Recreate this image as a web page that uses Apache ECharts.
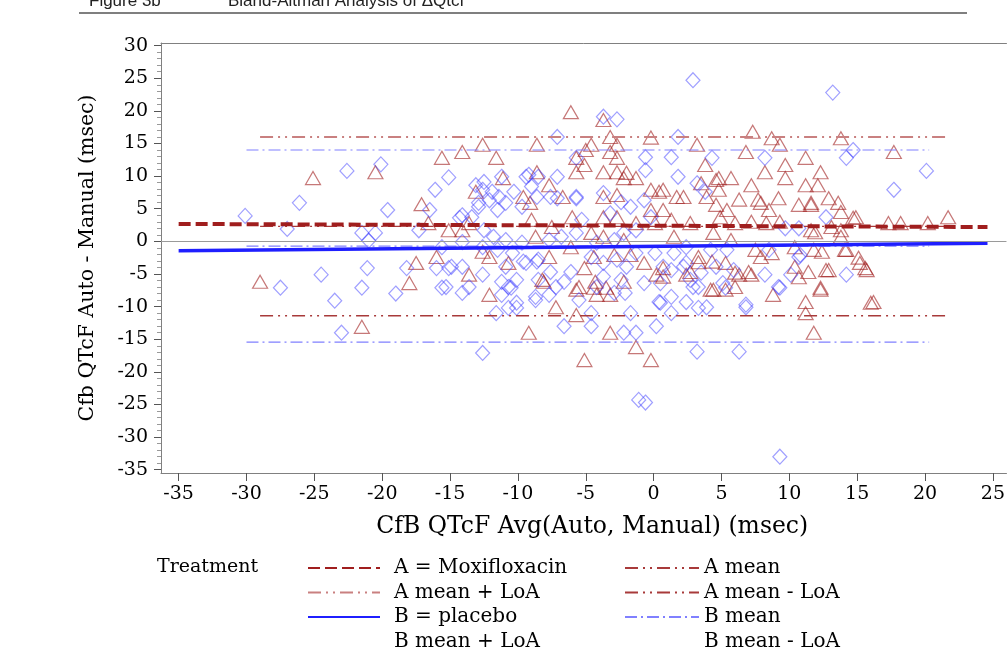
<!DOCTYPE html>
<html>
<head>
<meta charset="utf-8">
<script src="https://cdn.jsdelivr.net/npm/echarts@6/dist/echarts.min.js"></script>
<style>
  html, body { margin: 0; padding: 0; background: #fff; }
  #chart { width: 1008px; height: 651px; }
</style>
</head>
<body>
<div id="chart"></div>
<script>
"use strict";
/* tick labels */
const xTicks = [-35, -30, -25, -20, -15, -10, -5, 0, 5, 10, 15, 20, 25];
const yTicks = [-35, -30, -25, -20, -15, -10, -5, 0, 5, 10, 15, 20, 25, 30];
const yMinorTicks = [];
for (let v = -35; v <= 30; v++) { if (v % 5 !== 0) yMinorTicks.push(v); }

/* A = Moxifloxacin : [avg, diff] */
const aPoints = [
  [-29.0,-6.2],[-25.1,9.7],[-20.5,10.6],[-21.5,-13.1],[-18.0,-6.4],[-17.5,-3.3],[-17.1,5.7],[-16.6,2.8],
  [-16.0,-2.4],[-15.6,12.8],[-15.1,1.7],[-14.1,13.7],[-14.1,1.7],[-13.6,2.8],[-13.6,-5.1],[-13.1,7.6],
  [-12.6,14.8],[-12.6,-1.6],[-12.1,-2.4],[-12.1,-8.2],[-11.6,12.8],[-11.1,9.7],[-10.7,-3.3],[-9.6,6.8],
  [-9.2,-14.0],[-9.1,5.9],[-8.6,14.8],[-8.6,10.6],[-8.1,-6.2],[-7.7,8.6],[-7.2,-10.1],[-6.7,6.8],
  [-6.1,19.8],[-5.7,12.8],[-5.7,10.6],[-5.7,-11.3],[-5.7,-7.4],[-5.1,11.7],[-5.1,-18.2],[-5.1,-4.1],
  [-4.6,14.8],[-4.3,-6.2],[-4.2,-8.2],[-3.7,18.6],[-3.7,10.6],[-3.2,16.0],[-3.2,13.7],[-3.2,-8.2],
  [-3.2,-14.0],[-2.7,14.8],[-2.7,12.8],[-2.7,10.6],[-2.2,9.7],[-2.2,-6.2],[-1.3,9.7],[-1.3,-16.2],
  [-0.7,-3.3],[-0.2,15.9],[-0.2,-18.2],[0.2,-5.1],[0.4,7.6],[0.7,-4.1],[2.2,6.8],[2.4,-5.1],
  [3.2,14.8],[3.3,-3.2],[3.8,11.7],[4.2,-7.4],[4.6,5.6],[4.8,9.7],[5.3,-7.4],[5.7,9.7],
  [6.3,-5.1],[6.8,13.7],[7.2,-5.1],[7.2,8.6],[7.3,16.8],[7.9,5.9],[7.9,-2.4],[8.2,10.6],
  [8.7,15.8],[8.8,-8.2],[9.2,6.6],[9.3,14.8],[9.7,11.7],[9.7,9.7],[10.7,5.6],[10.7,-5.5],
  [11.2,12.8],[11.2,8.6],[11.2,-9.3],[11.2,-11.0],[11.6,5.6],[11.6,1.7],[11.8,-14.0],[12.1,8.6],
  [12.3,10.6],[12.3,-7.4],[12.4,-1.6],[12.7,-4.4],[12.9,6.6],[13.8,15.8],[13.8,4.5],[13.8,1.7],
  [14.2,-1.3],[14.7,3.6],[15.2,-3.3],[15.7,-4.4],[16.2,-9.3],[17.3,2.8],[17.7,13.7],[18.2,2.8],
  [20.2,2.8],[21.7,3.7],
  [-9.0,3.3],[-6.0,3.7],[-7.5,2.2],[-8.7,0.7],[-8.2,-5.9],[-7.7,-2.4],[-6.1,-0.9],[-5.5,-7.0],
  [-5.0,14.0],[-2.0,10.5],[-0.2,7.9],[0.7,7.9],[1.7,6.8],[-3.7,6.8],[-2.7,7.1],[0.7,4.8],
  [-0.2,4.8],[-3.7,3.7],[-2.7,3.7],[-1.3,2.8],[0.1,2.8],[1.3,3.3],[2.7,2.8],[4.9,3.7],
  [5.4,4.8],[3.9,6.8],[4.8,7.9],[3.5,8.9],[4.6,9.4],[-4.6,1.3],[-3.7,0.7],[-2.2,0.2],
  [1.5,0.7],[4.4,1.3],[5.7,0.2],[-4.4,-2.4],[-2.9,-2.1],[-1.7,-2.1],[3.3,-2.4],[4.3,-3.1],
  [5.3,-3.3],[0.7,-5.4],[2.7,-4.7],[-4.4,-7.1],[-3.5,-7.1],[4.4,-7.4],
  [11.6,5.9],[7.7,6.4],[6.3,6.4],[8.5,4.8],[13.6,5.9],[14.9,3.7],[6.0,2.8],[7.2,3.0],
  [8.3,2.8],[9.3,3.0],[13.1,2.2],[11.9,1.4],[13.8,0.7],[7.5,-1.3],[8.7,-1.8],[10.4,-0.9],
  [11.8,-1.3],[14.1,-1.3],[15.1,-2.5],[15.6,-4.1],[7.0,-4.7],[6.0,-4.8],[10.4,-3.9],[11.4,-4.7],
  [12.9,-4.4],[12.3,-7.1],[16.0,-9.4],[6.0,-7.0]
];

/* B = placebo : [avg, diff] */
const bPoints = [
  [-30.1,3.9],[-27.0,1.9],[-26.1,5.9],[-27.5,-7.1],[-24.5,-5.1],[-23.5,-9.1],[-23.0,-14.0],[-22.6,10.8],
  [-21.5,-7.1],[-21.5,1.3],[-21.1,-4.1],[-21.0,0.1],[-20.5,1.3],[-20.1,11.8],[-19.6,4.8],[-19.0,-8.0],
  [-18.2,-4.1],[-17.3,1.7],[-16.5,4.8],[-16.1,7.9],[-16.0,-4.1],[-15.6,-7.1],[-15.6,-0.9],[-15.1,9.8],
  [-15.1,-4.1],[-14.1,4.0],[-14.1,-0.1],[-14.1,-3.9],[-14.1,-7.9],[-13.6,-7.0],[-13.1,8.6],[-12.9,5.9],
  [-12.6,-5.1],[-12.6,-17.1],[-12.5,9.1],[-11.4,6.8],[-11.2,9.9],[-11.2,-6.2],[-11.2,-8.2],[-11.6,-11.0],
  [-10.7,-10.2],[-10.5,-7.1],[-10.3,7.6],[-10.1,-10.2],[-9.7,5.3],[-9.6,-3.1],[-9.2,10.2],[-8.7,-9.0],
  [-8.6,-3.1],[-7.7,-8.2],[-7.6,6.8],[-7.1,16.0],[-6.6,-6.2],[-6.6,-13.0],[-5.7,12.8],[-5.7,6.8],
  [-4.6,-13.0],[-4.6,-11.0],[-3.7,19.1],[-2.7,18.7],[-2.2,-14.0],[-2.1,-7.9],[-1.7,-11.0],[-1.3,-14.0],
  [-1.1,-24.3],[-0.6,-24.7],[-0.6,12.9],[-0.6,10.9],[0.2,-13.0],[0.4,-9.3],[1.3,-11.0],[1.3,12.9],
  [1.3,-4.4],[1.8,16.0],[1.8,9.9],[2.4,-3.3],[2.4,-9.3],[2.9,24.7],[3.2,8.9],[3.2,-16.9],
  [3.3,-10.2],[3.3,-7.0],[3.8,7.6],[4.3,12.8],[5.3,-7.1],[6.3,-16.9],[6.8,-10.1],[8.2,12.8],
  [8.2,-5.1],[9.3,-7.1],[9.3,-33.0],[9.7,2.0],[10.7,2.0],[10.7,-2.4],[12.7,3.7],[13.2,22.8],
  [14.2,12.8],[14.2,-5.1],[14.7,14.0],[17.7,7.9],[20.1,10.8],
  [-12.6,7.9],[-11.9,7.6],[-12.1,6.3],[-12.9,5.3],[-11.5,4.8],[-10.9,5.9],[-9.4,9.9],[-9.0,8.4],
  [-8.5,9.9],[-8.6,6.8],[-7.1,9.9],[-7.1,6.6],[-5.7,6.6],[-5.3,3.3],[-5.7,1.3],[-6.8,0.7],
  [-7.7,0.2],[-9.7,-0.2],[-10.9,0.2],[-11.8,0.7],[-12.5,1.7],[-13.4,3.7],[-14.3,3.6],[-12.6,-0.9],
  [-11.5,-1.3],[-10.4,-1.8],[-10.9,-3.9],[-9.4,-3.3],[-8.5,-2.8],[-7.6,-4.7],[-6.1,-4.7],[-8.5,-5.9],
  [-10.1,-5.9],[-10.7,-7.0],[-14.9,-3.9],[-15.3,-7.0],[-10.1,-9.4],[-8.7,-8.5],[-7.2,-7.0],[-5.5,-9.0],
  [-3.7,7.4],[-2.4,6.0],[-1.7,5.3],[-0.7,6.3],[-0.2,3.7],[-3.2,4.3],[-1.3,1.7],[-2.2,1.3],
  [-2.9,0.2],[-4.2,-0.2],[-4.6,-2.4],[-3.7,-3.3],[-2.7,-2.8],[-2.0,-3.9],[-1.3,-1.8],[0.7,-3.9],
  [0.1,-1.8],[1.5,-1.8],[2.2,-3.9],[3.5,-4.8],[2.7,-5.9],[0.5,-6.4],[-0.7,-6.4],[-2.4,-5.9],
  [-3.7,-5.4],[-4.2,-7.0],[-2.9,-7.9],[1.3,-8.5],[2.9,-7.0],[3.9,-10.1],[5.1,-6.4],[4.6,-3.9],
  [5.4,-1.3],[4.2,-1.3],[2.4,-0.9],[0.5,-9.4],
  [8.5,-1.3],[10.8,-2.1],[10.1,-5.1],[9.2,-7.0],[6.8,-9.7],[5.9,-4.4]
];

/* fitted lines and reference levels */
const regX = [-35, 24.6];
const aRegY = [2.67, 2.2];
const bRegY = [-1.43, -0.3];
const aSpan = [-29.0, 21.5];
const bSpan = [-30.0, 20.3];
const aMean = 2.3, aLoaUp = 16.0, aLoaLow = -11.4;
const bMean = -0.73, bLoaUp = 14.0, bLoaLow = -15.45;

/* legend rows: [name, column, row] */
const legendItems = [
    ["A = Moxifloxacin", 0, 0], ["A mean", 1, 0],
    ["A mean + LoA", 0, 1], ["A mean - LoA", 1, 1],
    ["B = placebo", 0, 2], ["B mean", 1, 2],
    ["B mean + LoA", 0, 3], ["B mean - LoA", 1, 3]
];

const serif = "'DejaVu Serif', 'Liberation Serif', serif";
const xMin = -36.3, xMax = 26, yMin = -35.5, yMax = 30.4;

function seg(xs, ys) { return [[xs[0], ys[0]], [xs[1], ys[1]]]; }
function hline(xs, v) { return [[xs[0], v], [xs[1], v]]; }
function refLine(name, data, color, type, width) {
    return {
        name: name, type: "line", data: data, symbol: "none", silent: true,
        itemStyle: { color: color },
        lineStyle: { color: color, type: type, width: width }, z: 3
    };
}
/* one legend per entry so the two columns line up */
function legendEntry(item) {
    let name = item[0], col = item[1], row = item[2];
    let hidden = name.indexOf("B mean ") === 0 && name.indexOf("LoA") > 0;
    return {
        left: col === 0 ? 307 : 624, top: 558 + row * 24.5, padding: 0,
        itemWidth: col === 0 ? 72 : 74, itemHeight: 14, selectedMode: false,
        itemStyle: { opacity: 0 },
        textStyle: { fontFamily: serif, fontSize: 20, color: "#000", padding: [0, 0, 0, col === 0 ? 9 : 0] },
        data: [hidden ? { name: name, lineStyle: { opacity: 0 } } : name]
    };
}

let chart = echarts.init(document.getElementById("chart"));
let option = {
    animation: false,
    title: [
        { text: "Figure 3b", left: 84, top: -12, textStyle: { fontFamily: "'Liberation Sans', Arial", fontSize: 17, fontWeight: "normal", color: "#222" } },
        { text: "Bland-Altman Analysis of \u0394Qtcf", left: 223, top: -12, textStyle: { fontFamily: "'Liberation Sans', Arial", fontSize: 17, fontWeight: "normal", color: "#222" } },
        { text: "Treatment", left: 157, top: 558, padding: 0, textStyle: { fontFamily: serif, fontSize: 19, fontWeight: "normal", color: "#000" } }
    ],
    graphic: [{
        type: "line", shape: { x1: 79, y1: 13, x2: 967, y2: 13 },
        style: { stroke: "#555", lineWidth: 1.5 }, silent: true
    }],
    legend: legendItems.map(legendEntry),
    grid: { left: 161, right: 0, top: 43, bottom: 178 },
    xAxis: [
        {
            type: "value", min: xMin, max: xMax, position: "bottom",
            name: "CfB QTcF Avg(Auto, Manual) (msec)", nameLocation: "middle", nameGap: 42,
            nameTextStyle: { fontFamily: serif, fontSize: 23.5, color: "#000", padding: [0, 0, 0, 17] },
            axisLine: { onZero: false, lineStyle: { color: "#808080", width: 1 } },
            axisTick: { customValues: xTicks, length: 8, lineStyle: { color: "#555" } },
            axisLabel: { customValues: xTicks, margin: 12, fontFamily: serif, fontSize: 19, color: "#000" },
            splitLine: { show: false }
        },
        {
            type: "value", min: xMin, max: xMax, position: "top",
            axisLine: { onZero: false, lineStyle: { color: "#808080", width: 1 } },
            axisTick: { show: false }, axisLabel: { show: false }, splitLine: { show: false }
        }
    ],
    yAxis: [
        {
            type: "value", min: yMin, max: yMax, position: "left",
            name: "Cfb QTcF Auto - Manual (msec)", nameLocation: "middle", nameGap: 63,
            nameTextStyle: { fontFamily: serif, fontSize: 20.5, color: "#000" },
            axisLine: { onZero: false, lineStyle: { color: "#808080", width: 1 } },
            axisTick: { customValues: yTicks, length: 7, lineStyle: { color: "#555" } },
            axisLabel: { customValues: yTicks, margin: 13, fontFamily: serif, fontSize: 19, color: "#000" },
            splitLine: { show: false }
        },
        {
            type: "value", min: yMin, max: yMax, position: "left",
            axisLine: { show: false, onZero: false },
            axisTick: { customValues: yMinorTicks, length: 4, lineStyle: { color: "#999" } },
            axisLabel: { show: false }, splitLine: { show: false }
        }
    ],
    series: [
        {
            name: "A points", type: "scatter", data: aPoints, symbol: "triangle", symbolSize: [15, 13],
            itemStyle: { color: "transparent", borderColor: "rgba(160,30,30,0.75)", borderWidth: 1.2 }, z: 2,
            markLine: {
                silent: true, symbol: "none", label: { show: false },
                lineStyle: { color: "#9a9a9a", type: "solid", width: 1 },
                data: [{ yAxis: 0 }]
            }
        },
        {
            name: "B points", type: "scatter", data: bPoints, symbol: "diamond", symbolSize: [14, 15],
            itemStyle: { color: "transparent", borderColor: "rgba(55,55,255,0.6)", borderWidth: 1.2 }, z: 2
        },
        refLine("A mean + LoA", hline(aSpan, aLoaUp), "#c98080", [13, 5, 2, 5, 2, 5], 2),
        refLine("A mean - LoA", hline(aSpan, aLoaLow), "#a83a3a", [13, 5, 2, 5, 2, 5], 1.5),
        refLine("A mean", hline(aSpan, aMean), "#a83a3a", [13, 5, 2, 5, 2, 5], 1.2),
        refLine("B mean + LoA", hline(bSpan, bLoaUp), "#8080ff", [12, 4, 2, 4], 1.2),
        refLine("B mean - LoA", hline(bSpan, bLoaLow), "#8080ff", [12, 4, 2, 4], 1.2),
        refLine("B mean", hline(bSpan, bMean), "#8080ff", [12, 4, 2, 4], 1.2),
        refLine("A = Moxifloxacin", seg(regX, aRegY), "#a01e1e", [12, 5], 4),
        refLine("B = placebo", seg(regX, bRegY), "#1f1fff", "solid", 3.5)
    ]
};
chart.setOption(option);
</script>
</body>
</html>
